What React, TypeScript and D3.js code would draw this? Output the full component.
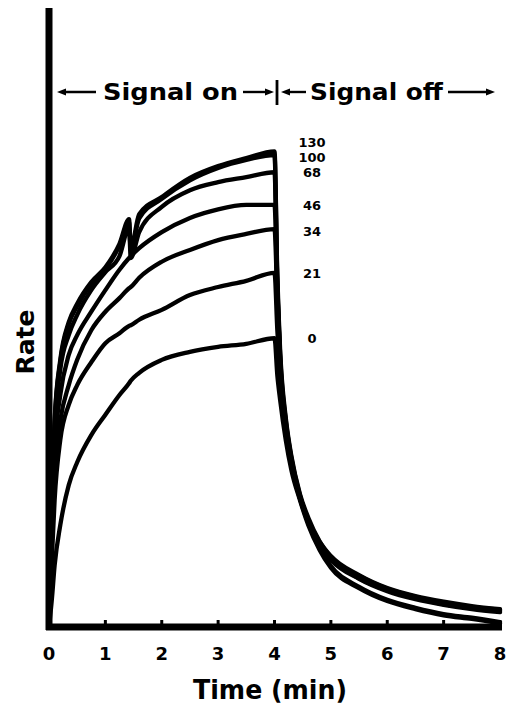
import React from "react";
import * as d3 from "d3";

const TIME = [0, 0.05, 0.1, 0.2, 0.35, 0.5, 0.75, 1, 1.25, 1.42, 1.45, 1.6, 2, 2.5, 3, 3.5, 4,
  4.05, 4.1, 4.2, 4.3, 4.45, 4.6, 4.8, 5, 5.5, 6, 6.5, 7, 7.5, 8];

const RATE_0 = [0, 4.4, 10.0, 16.5, 23.0, 26.7, 31.1, 34.4, 37.6, 39.5, 39.9, 41.2, 43.3, 44.6, 45.4, 45.9, 46.8,
  40.8, 36.8, 30.3, 25.4, 20.6, 16.5, 12.5, 9.6, 6.3, 4.2, 2.9, 1.9, 1.3, 0.6];
const RATE_21 = [0, 10.9, 20.6, 30.3, 36.0, 39.2, 42.9, 46.0, 47.6, 48.8, 48.9, 49.8, 51.4, 53.8, 55.1, 56.1, 57.4,
  48.1, 40.8, 31.9, 26.3, 20.9, 16.9, 12.8, 9.9, 6.5, 4.4, 3.1, 2.1, 1.5, 0.8];
const RATE_34 = [0, 14.1, 25.4, 33.5, 39.2, 43.3, 48.1, 51.1, 53.3, 54.9, 55.1, 56.6, 59.2, 61.1, 62.7, 63.7, 64.5,
  53.0, 42.5, 32.7, 26.7, 21.1, 17.2, 13.6, 11.2, 8.1, 6.0, 4.7, 3.7, 3.1, 2.6];
const RATE_46 = [0, 15.7, 28.7, 37.6, 44.1, 47.3, 51.1, 54.6, 57.9, 59.8, 60.1, 61.4, 64.0, 66.3, 67.7, 68.4, 68.4,
  54.6, 42.9, 32.7, 26.6, 20.9, 16.9, 13.3, 10.9, 7.8, 5.8, 4.5, 3.6, 2.9, 2.4];
const RATE_68 = [0, 17.3, 31.9, 41.7, 47.3, 50.6, 54.6, 57.5, 60.1, 64.7, 59.8, 64.0, 68.1, 70.8, 72.1, 72.9, 73.7,
  55.4, 43.3, 33.2, 27.1, 21.2, 17.3, 13.6, 11.2, 7.9, 6.0, 4.7, 3.7, 3.1, 2.6];
const RATE_100 = [0, 18.6, 33.2, 42.9, 49.1, 52.0, 55.6, 58.0, 61.8, 65.6, 61.1, 66.2, 69.4, 72.4, 74.4, 75.7, 76.5,
  56.2, 44.1, 33.5, 27.4, 21.4, 17.3, 13.8, 11.3, 8.3, 6.2, 4.9, 3.9, 3.2, 2.8];
const RATE_130 = [0, 19.0, 33.5, 43.3, 49.4, 52.4, 55.9, 58.3, 62.1, 66.1, 61.4, 66.9, 69.7, 72.8, 74.7, 76.0, 77.1,
  57.1, 44.9, 33.9, 27.7, 21.6, 17.7, 13.9, 11.5, 8.4, 6.3, 5.0, 4.1, 3.4, 2.9];

const SERIES_LABELS = ["0", "21", "34", "46", "68", "100", "130"];
const SERIES = [RATE_0, RATE_21, RATE_34, RATE_46, RATE_68, RATE_100, RATE_130];
const X_TICKS = [0, 1, 2, 3, 4, 5, 6, 7, 8];

// layout
const LABEL_DY = [0, 1, 2, 1, 0, 3, -9];
const FONT = "'DejaVu Sans', Verdana, sans-serif";

export default function App() {
  const x = d3.scaleLinear().domain([0, 8]).range([49, 500]);
  const y = d3.scaleLinear().domain([0, 100]).range([627, 10]);
  const line = d3
    .line<number>()
    .x((_, i) => x(TIME[i]))
    .y((d) => y(d))
    .curve(d3.curveMonotoneX);

  const arrowY = 92;
  const arrowL = (x1: number, x2: number) => (
    <g>
      <line x1={x1 + 6} x2={x2} y1={arrowY} y2={arrowY} stroke="#000" strokeWidth={2.4} />
      <polygon points={`${x1},${arrowY} ${x1 + 9},${arrowY - 3.5} ${x1 + 9},${arrowY + 3.5}`} fill="#000" />
    </g>
  );
  const arrowR = (x1: number, x2: number) => (
    <g>
      <line x1={x1} x2={x2 - 6} y1={arrowY} y2={arrowY} stroke="#000" strokeWidth={2.4} />
      <polygon points={`${x2},${arrowY} ${x2 - 9},${arrowY - 3.5} ${x2 - 9},${arrowY + 3.5}`} fill="#000" />
    </g>
  );

  return (
    <svg
      width={506}
      height={710}
      style={{ position: "absolute", left: 0, top: 0, display: "block", background: "#fff" }}
    >
      <rect width={506} height={710} fill="#fff" />
      {/* curves */}
      {SERIES.map((s, i) => (
        <path
          key={SERIES_LABELS[i]}
          d={line(s) || ""}
          fill="none"
          stroke="#000"
          strokeWidth={4.3}
          strokeLinejoin="round"
          strokeLinecap="round"
        />
      ))}
      {/* axes */}
      <line x1={x(0)} x2={x(0)} y1={8} y2={y(0) + 3} stroke="#000" strokeWidth={7} />
      <line x1={x(0) - 3} x2={x(8) + 2} y1={y(0)} y2={y(0)} stroke="#000" strokeWidth={7} />
      {X_TICKS.slice(1).map((t) => (
        <line key={t} x1={x(t)} x2={x(t)} y1={y(0)} y2={y(0) - 7} stroke="#000" strokeWidth={3} />
      ))}
      {X_TICKS.map((t) => (
        <text
          key={"l" + t}
          x={x(t)}
          y={660}
          textAnchor="middle"
          fontFamily={FONT}
          fontWeight="bold"
          fontSize={18}
        >
          {t}
        </text>
      ))}
      <text
        x={270}
        y={699}
        textAnchor="middle"
        fontFamily={FONT}
        fontWeight="bold"
        fontSize={26}
        textLength={154}
        lengthAdjust="spacingAndGlyphs"
      >
        Time (min)
      </text>
      <text
        transform="translate(34,342) rotate(-90)"
        textAnchor="middle"
        fontFamily={FONT}
        fontWeight="bold"
        fontSize={25}
      >
        Rate
      </text>
      {/* series labels */}
      {SERIES.map((s, i) => (
        <text
          key={"s" + i}
          x={312}
          y={y(s[16]) + LABEL_DY[i] + 4.5}
          textAnchor="middle"
          fontFamily={FONT}
          fontWeight="bold"
          fontSize={13}
        >
          {SERIES_LABELS[i]}
        </text>
      ))}
      {/* signal annotation */}
      {arrowL(57, 96)}
      <text x={103} y={arrowY + 8} fontFamily={FONT} fontWeight="bold" fontSize={23} textLength={135} lengthAdjust="spacingAndGlyphs">
        Signal on
      </text>
      {arrowR(243, 274)}
      <line x1={277} x2={277} y1={80} y2={105} stroke="#000" strokeWidth={2.8} />
      {arrowL(281, 306)}
      <text x={310} y={arrowY + 8} fontFamily={FONT} fontWeight="bold" fontSize={23} textLength={133} lengthAdjust="spacingAndGlyphs">
        Signal off
      </text>
      {arrowR(448, 495)}
    </svg>
  );
}
